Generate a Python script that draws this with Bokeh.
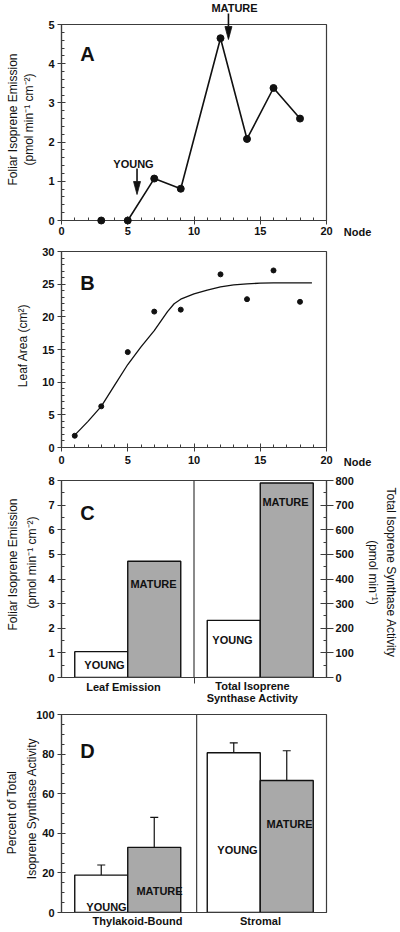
from math import pi
from bokeh.plotting import figure
from bokeh.models import (Range1d, LinearAxis, FixedTicker, Span, Whisker, TeeHead,
                          ColumnDataSource)
from bokeh.core.properties import value
from bokeh.layouts import column
from bokeh.embed import file_html
from bokeh.resources import INLINE

# ---------------- data ----------------
# Panel A: foliar isoprene emission by node
a_nodes = [3, 5, 7, 9, 12, 14, 16, 18]
a_emission = [0.0, 0.0, 1.07, 0.81, 4.65, 2.08, 3.38, 2.60]
a_line_start = 1          # index where the connecting line starts
a_young_node = 5.7
a_mature_node = 12.6

# Panel B: leaf area by node, with fitted curve
b_nodes = [1, 3, 5, 7, 9, 12, 14, 16, 18]
b_area = [1.8, 6.3, 14.6, 20.8, 21.1, 26.5, 22.7, 27.1, 22.3]
b_fit_nodes = [1, 2, 3, 4, 5, 6, 7, 8, 8.5, 9, 10, 11, 12, 13, 14, 15, 16, 17, 18, 18.9]
b_fit_area = [1.9, 4.0, 6.3, 9.5, 12.7, 15.4, 17.9, 20.8, 22.0, 22.7, 23.5, 24.1, 24.6,
              24.9, 25.05, 25.15, 25.2, 25.2, 25.2, 25.2]

# Panel C: young vs mature
c_groups = ["Leaf Emission", "Total Isoprene Synthase Activity"]
c_stage = ["YOUNG", "MATURE"]
c_emission = [1.05, 4.72]       # pmol min-1 cm-2
c_activity = [232, 790]         # pmol min-1

# Panel D: percent of total isoprene synthase activity
d_groups = ["Thylakoid-Bound", "Stromal"]
d_young = [18.9, 80.7]
d_young_err = [5.1, 5.0]
d_mature = [32.9, 66.7]
d_mature_err = [15.1, 15.0]

# ---------------- style ----------------
FONT = "Liberation Sans"
INK = "#111111"
AX = "#3c3c3c"
GRAY = "#a9a9a9"
W = 400
TITLE = 12


class Frame:
    def __init__(self, left, top, right, bottom, xr, yr):
        self.left, self.top, self.right, self.bottom = left, top, right, bottom
        self.xr, self.yr = xr, yr

    def x(self, px):
        return self.xr[0] + (px - self.left) / (self.right - self.left) * (self.xr[1] - self.xr[0])

    def y(self, py):
        return self.yr[0] + (self.bottom - py) / (self.bottom - self.top) * (self.yr[1] - self.yr[0])

    def sx(self, dpx):
        return dpx / (self.right - self.left) * (self.xr[1] - self.xr[0])


def make_fig(h, top, bottom, xr, yr):
    p = figure(width=W, height=h, x_range=Range1d(*xr), y_range=Range1d(*yr),
               output_backend="svg", toolbar_location=None,
               min_border_left=61, min_border_right=74,
               min_border_top=top, min_border_bottom=bottom)
    p.xgrid.visible = False
    p.ygrid.visible = False
    p.outline_line_color = AX
    p.outline_line_width = 1.2
    p.outline_line_alpha = 1.0
    p.background_fill_color = "white"
    p.border_fill_color = "white"
    return p


def style_axis(ax, major, minor, tick_in=4, tick_out=4, labels=True, standoff=3):
    ax.ticker = FixedTicker(ticks=major, minor_ticks=minor)
    ax.axis_line_color = AX
    ax.axis_line_width = 1.2
    ax.major_tick_line_color = AX
    ax.minor_tick_line_color = AX
    ax.major_tick_line_width = 1.0
    ax.minor_tick_line_width = 1.0
    ax.major_tick_in = tick_in
    ax.major_tick_out = tick_out
    ax.minor_tick_in = 3
    ax.minor_tick_out = 0
    ax.major_label_text_font = FONT
    ax.major_label_text_font_style = "bold"
    ax.major_label_text_font_size = "11px"
    ax.major_label_text_color = INK
    ax.major_label_standoff = standoff
    if not labels:
        ax.major_label_overrides = {t: "" for t in major}


def put(p, fr, text, px, py, size=11, bold=False, angle=0.0, align="center",
        baseline="middle"):
    r = p.text(x=[fr.x(px)], y=[fr.y(py)], text=[text], text_font=value(FONT),
               text_font_size=f"{size}px", text_font_style="bold" if bold else "normal",
               text_color=INK, angle=angle, text_align=align, text_baseline=baseline)
    r.level = "overlay"


def arrow(p, fr, xdata, py_start, py_tip, head_len=13, head_w=7):
    y0, y1 = fr.y(py_start), fr.y(py_tip)
    yb = fr.y(py_tip - head_len)
    r1 = p.segment(x0=[xdata], y0=[y0], x1=[xdata], y1=[yb], line_color=INK, line_width=1.6)
    hw = fr.sx(head_w / 2)
    r2 = p.patch(x=[xdata - hw, xdata + hw, xdata], y=[yb, yb, y1],
                 fill_color=INK, line_color=INK, line_width=0.8)
    r1.level = "overlay"
    r2.level = "overlay"


def frange(a, b, step):
    out, v = [], a
    while v <= b + 1e-9:
        out.append(round(v, 6))
        v += step
    return out


# ---------------- Panel A ----------------
fa = Frame(61, 24, 326, 220, (0, 20), (0, 5))
pa = make_fig(240, 24, 20, fa.xr, fa.yr)
style_axis(pa.xaxis[0], [0, 5, 10, 15, 20], frange(0, 20, 1), standoff=2)
style_axis(pa.yaxis[0], [0, 1, 2, 3, 4, 5], frange(0, 5, 0.2))
pa.line(a_nodes[a_line_start:], a_emission[a_line_start:], line_color=INK, line_width=1.6)
ra = pa.scatter(a_nodes, a_emission, size=7, fill_color=INK, line_color=INK)
ra.level = "overlay"
put(pa, fa, "A", 87, 53, size=20, bold=True, baseline="alphabetic")
put(pa, fa, "Foliar Isoprene Emission", 12, 119, size=TITLE, angle=pi / 2)
put(pa, fa, "(pmol min\u207b\u00b9 cm\u207b\u00b2)", 28, 119, size=TITLE, angle=pi / 2)
put(pa, fa, "Node", 357, 231, bold=True)
put(pa, fa, "YOUNG", 133, 163, bold=True)
put(pa, fa, "MATURE", 234, 7, bold=True)
arrow(pa, fa, a_young_node, 168, 194)
arrow(pa, fa, a_mature_node, 13, 39)

# ---------------- Panel B ----------------
fb = Frame(61, 251, 326, 447, (0, 20), (0, 30))
pb = make_fig(230, 11, 23, fb.xr, fb.yr)
style_axis(pb.xaxis[0], [0, 5, 10, 15, 20], frange(0, 20, 1), standoff=4)
style_axis(pb.yaxis[0], [0, 5, 10, 15, 20, 25, 30], frange(0, 30, 1))
pb.line(b_fit_nodes, b_fit_area, line_color=INK, line_width=1.3)
pb.scatter(b_nodes, b_area, size=5, fill_color=INK, line_color=INK)
put(pb, fb, "B", 87, 282, size=20, bold=True, baseline="alphabetic")
put(pb, fb, "Leaf Area (cm\u00b2)", 22, 345, size=TITLE, angle=pi / 2)
put(pb, fb, "Node", 357, 461, bold=True)

# ---------------- Panel C ----------------
fc = Frame(61, 480, 326, 677, (0, 2), (0, 8))
pc = make_fig(235, 10, 28, fc.xr, fc.yr)
pc.extra_y_ranges = {"act": Range1d(0, 800)}
style_axis(pc.xaxis[0], [1], [], tick_in=0, tick_out=6, labels=False)
style_axis(pc.yaxis[0], frange(0, 8, 1), frange(0, 8, 0.5))
rax = LinearAxis(y_range_name="act")
style_axis(rax, frange(0, 800, 100), frange(0, 800, 50), tick_in=6, tick_out=7, standoff=2)
pc.add_layout(rax, "right")
centers = [0.5, 1.5]
off = 0.2
bw = 0.4
pc.vbar(x=[centers[0] - off, centers[0] + off], top=c_emission, width=bw,
        fill_color=["white", GRAY], line_color=INK, line_width=1.4)
pc.vbar(x=[centers[1] - off, centers[1] + off], top=c_activity, width=bw,
        fill_color=["white", GRAY], line_color=INK, line_width=1.4, y_range_name="act")
pc.add_layout(Span(location=1, dimension="height", line_color=AX, line_width=1.2))
put(pc, fc, "C", 87, 512, size=20, bold=True, baseline="alphabetic")
put(pc, fc, "Foliar Isoprene Emission", 12, 564, size=TITLE, angle=pi / 2)
put(pc, fc, "(pmol min\u207b\u00b9 cm\u207b\u00b2)", 31, 562, size=TITLE, angle=pi / 2)
put(pc, fc, "Total Isoprene Synthase Activity", 390, 572, size=TITLE, angle=-pi / 2)
put(pc, fc, "(pmol min\u207b\u00b9)", 372, 572, size=TITLE, angle=-pi / 2)
put(pc, fc, c_groups[0], 123, 686, bold=True)
put(pc, fc, "Total Isoprene", 252, 685, bold=True)
put(pc, fc, "Synthase Activity", 252, 697, bold=True)
put(pc, fc, c_stage[0], 104, 664, bold=True)
put(pc, fc, c_stage[1], 153, 583, bold=True)
put(pc, fc, c_stage[0], 232, 639, bold=True)
put(pc, fc, c_stage[1], 285, 501, bold=True)

# ---------------- Panel D ----------------
fd = Frame(61, 714, 326, 912, (0, 2), (0, 100))
pd_ = make_fig(227, 9, 20, fd.xr, fd.yr)
style_axis(pd_.xaxis[0], [], [], tick_in=0, tick_out=0, labels=False)
style_axis(pd_.yaxis[0], frange(0, 100, 20), frange(0, 100, 5))
yx = [c - off for c in centers]
mx = [c + off for c in centers]
pd_.vbar(x=yx, top=d_young, width=bw, fill_color="white", line_color=INK, line_width=1.4)
pd_.vbar(x=mx, top=d_mature, width=bw, fill_color=GRAY, line_color=INK, line_width=1.4)
for xs, vals, errs in ((yx, d_young, d_young_err), (mx, d_mature, d_mature_err)):
    src = ColumnDataSource(dict(base=xs, lower=[v - e for v, e in zip(vals, errs)],
                                upper=[v + e for v, e in zip(vals, errs)]))
    pd_.add_layout(Whisker(source=src, base="base", lower="lower", upper="upper",
                           line_color=INK, line_width=1.2,
                           upper_head=TeeHead(size=8, line_color=INK, line_width=1.2),
                           lower_head=TeeHead(size=8, line_color=INK, line_width=1.2)))
pd_.add_layout(Span(location=1.02, dimension="height", line_color=AX, line_width=1.2))
put(pd_, fd, "D", 87, 750, size=20, bold=True, baseline="alphabetic")
put(pd_, fd, "Percent of Total", 11, 812, size=TITLE, angle=pi / 2)
put(pd_, fd, "Isoprene Synthase Activity", 31, 808, size=TITLE, angle=pi / 2)
put(pd_, fd, d_groups[0], 137, 920, bold=True)
put(pd_, fd, d_groups[1], 260, 920, bold=True)
put(pd_, fd, "YOUNG", 106, 906, bold=True)
put(pd_, fd, "MATURE", 159, 890, bold=True)
put(pd_, fd, "YOUNG", 237, 849, bold=True)
put(pd_, fd, "MATURE", 289, 823, bold=True)

layout = column(pa, pb, pc, pd_, spacing=0)
open("out.html", "w").write(file_html(layout, INLINE))
